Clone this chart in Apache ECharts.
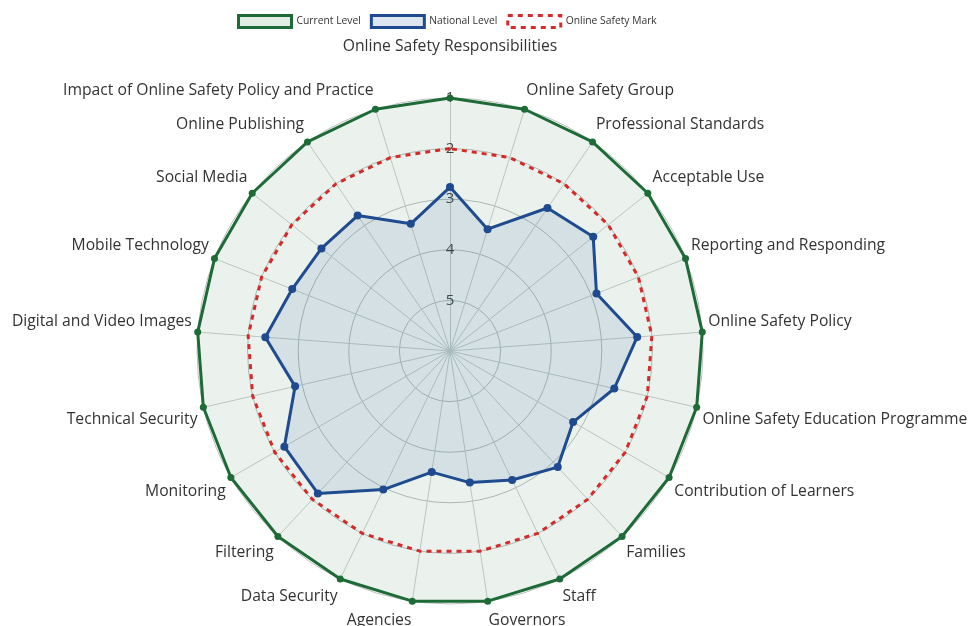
<!DOCTYPE html>
<html>
<head>
    <meta charset="utf-8">
    <title>Online Safety Radar</title>
    <script src="https://cdn.jsdelivr.net/npm/echarts@6/dist/echarts.min.js"></script>
    <style>
        html, body { margin: 0; padding: 0; background: #fff; }
    </style>
</head>
<body>
<div id="radar-chart" style="width: 969px; height: 626px;"></div>
<script>
    // 各项指标 (顺时针, 从顶部开始)
    var categories = [
        'Online Safety Responsibilities', 'Online Safety Group', 'Professional Standards',
        'Acceptable Use', 'Reporting and Responding', 'Online Safety Policy',
        'Online Safety Education Programme', 'Contribution of Learners', 'Families',
        'Staff', 'Governors', 'Agencies', 'Data Security', 'Filtering', 'Monitoring',
        'Technical Security', 'Digital and Video Images', 'Mobile Technology',
        'Social Media', 'Online Publishing', 'Impact of Online Safety Policy and Practice'
    ];
    // 等级 1 (最好) - 5, 图中 1 在外圈
    var currentLevel = [1, 1, 1, 1, 1, 1, 1, 1, 1, 1, 1, 1, 1, 1, 1, 1, 1, 1, 1, 1, 1];
    var nationalLevel = [2.76, 3.48, 2.58, 2.38, 2.89, 2.29, 2.67, 3.19, 2.87, 3.17, 3.37,
        3.58, 2.96, 2.16, 2.22, 2.86, 2.34, 2.65, 2.75, 2.76, 3.37];
    var markLevel = [2, 2, 2, 2, 2, 2, 2, 2, 2, 2, 2, 2, 2, 2, 2, 2, 2, 2, 2, 2, 2];
    var levelTicks = [5, 4, 3, 2, 1];

    var LOWEST = 6; // 圆心对应的等级
    var N = categories.length;
    var NAME_SIZE = 15.7;

    // echarts 雷达图是逆时针排列, 这里把顺序翻过来
    var order = categories.map(function (c, k) { return (N - k) % N; });

    function reorder(arr) {
        return order.map(function (i) { return arr[i]; });
    }

    // 把等级翻转成半径值
    function toRadius(arr) {
        return reorder(arr).map(function (v) { return LOWEST - v; });
    }

    // 每个标签在竖直方向上稍微错开 (上半部往上, 下半部往下)
    var rich = {
        top: { fontSize: NAME_SIZE, color: '#333', fontFamily: 'Open Sans', padding: [0, 0, 37, 0] }
    };
    categories.forEach(function (name, i) {
        if (i === 0) return;
        var a = i / N * Math.PI * 2;
        var c = Math.cos(a);
        var shift = Math.round(2 * (10 + 3 * Math.abs(c)));
        rich['n' + i] = {
            fontSize: NAME_SIZE, color: '#333', fontFamily: 'Open Sans',
            padding: c > 0 ? [0, 0, shift, 0] : [shift, 0, 0, 0]
        };
    });

    var indicators = reorder(categories).map(function (name, k) {
        var ind = { name: name, min: 0, max: LOWEST - 1 };
        if (k === 0) {
            ind.axisLabel = {
                show: true,
                margin: 0,
                align: 'center',
                verticalAlign: 'middle',
                color: '#444',
                fontSize: 15,
                fontFamily: 'Open Sans',
                showMinLabel: false,
                formatter: function (v) {
                    var lv = LOWEST - v;
                    return levelTicks.indexOf(lv) >= 0 ? String(lv) : '';
                }
            };
        }
        return ind;
    });

    var chart = echarts.init(document.getElementById('radar-chart'));

    chart.setOption({
        animation: false,
        textStyle: { fontFamily: 'Open Sans' },
        legend: {
            top: 9,
            left: 232,
            itemWidth: 53,
            itemHeight: 12,
            itemGap: 9,
            textStyle: { fontSize: 10.3, color: '#333', fontFamily: 'Open Sans' },
            data: [
                { name: 'Current Level', icon: 'rect',
                  itemStyle: { color: '#e2ece5', borderColor: '#1e6b37', borderWidth: 3 } },
                { name: 'National Level', icon: 'rect',
                  itemStyle: { color: '#dde5ee', borderColor: '#1f4a8f', borderWidth: 3 } },
                { name: 'Online Safety Mark', icon: 'rect',
                  itemStyle: { color: 'rgba(0,0,0,0)', borderColor: '#d42a2a', borderWidth: 3, borderType: [5, 5] } }
            ]
        },
        radar: {
            center: [450, 351],
            radius: 253,
            startAngle: 90,
            shape: 'circle',
            splitNumber: 5,
            nameGap: 6,
            indicator: indicators,
            axisName: {
                color: '#333',
                fontSize: NAME_SIZE,
                fontFamily: 'Open Sans',
                formatter: function (name) {
                    var i = categories.indexOf(name);
                    return '{' + (i === 0 ? 'top' : 'n' + i) + '|' + name + '}';
                },
                rich: rich
            },
            axisLine: { lineStyle: { color: '#c8cfcb', width: 1 } },
            splitLine: { lineStyle: { color: '#b9bfbc', width: 1 } },
            splitArea: { show: false },
            axisLabel: { show: false },
            axisTick: { show: false }
        },
        series: [{
            type: 'radar',
            data: [
                {
                    name: 'Current Level',
                    value: toRadius(currentLevel),
                    symbol: 'circle',
                    symbolSize: 7,
                    lineStyle: { color: '#1e6b37', width: 3 },
                    itemStyle: { color: '#1e6b37' },
                    areaStyle: { color: 'rgba(30,107,55,0.13)' }
                },
                {
                    name: 'Online Safety Mark',
                    value: toRadius(markLevel),
                    symbol: 'none',
                    lineStyle: { color: '#d42a2a', width: 3, type: [5, 5] },
                    itemStyle: { color: '#d42a2a' }
                },
                {
                    name: 'National Level',
                    value: toRadius(nationalLevel),
                    symbol: 'circle',
                    symbolSize: 8,
                    lineStyle: { color: '#1f4a8f', width: 3 },
                    itemStyle: { color: '#1f4a8f' },
                    areaStyle: { color: 'rgba(45,95,150,0.17)' }
                }
            ]
        }]
    });
</script>
</body>
</html>
